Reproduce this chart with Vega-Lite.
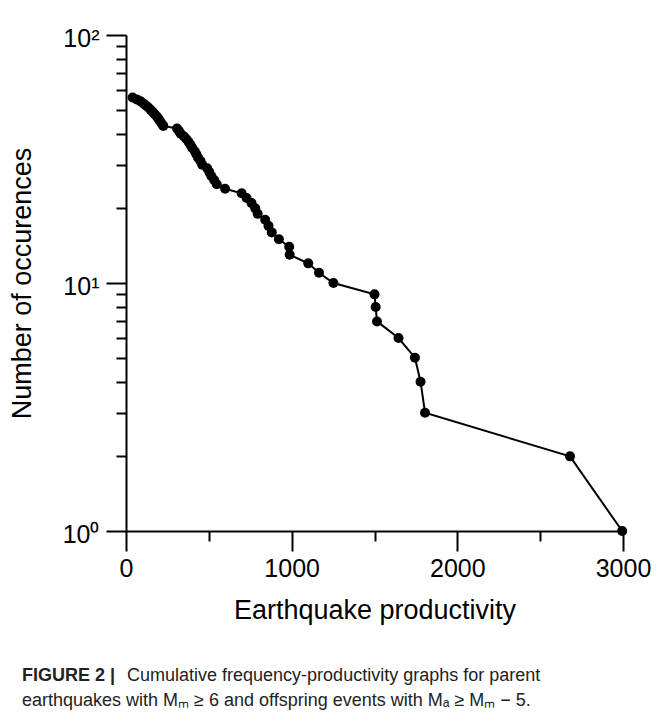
{
  "$schema": "https://vega.github.io/schema/vega-lite/v6.json",
  "width": 497,
  "height": 496,
  "autosize": {"type": "none"},
  "padding": {"left": 126, "top": 35, "right": 33, "bottom": 193},
  "background": "white",
  "config": {"view": {"stroke": null}, "font": "Liberation Sans"},
  "title": {
    "text": "FIGURE 2 |",
    "subtitle": ["\u200b\u00a0\u00a0\u00a0\u00a0\u00a0\u00a0\u00a0\u00a0\u00a0\u00a0\u00a0\u00a0\u00a0\u00a0\u00a0\u00a0\u00a0\u00a0\u00a0\u00a0\u00a0Cumulative frequency-productivity graphs for parent", "earthquakes with Mₘ ≥ 6 and offspring events with Mₐ ≥ Mₘ − 5."],
    "orient": "bottom",
    "anchor": "start",
    "frame": "group",
    "dx": -104,
    "offset": 44,
    "fontSize": 18,
    "fontWeight": "bold",
    "color": "#222222",
    "lineHeight": 25,
    "subtitleFontSize": 18,
    "subtitleLineHeight": 25,
    "subtitleColor": "#222222",
    "subtitlePadding": -18
  },
  "data": {
    "values": [
      {"productivity": 2995, "occurrences": 1},
      {"productivity": 2680, "occurrences": 2},
      {"productivity": 1805, "occurrences": 3},
      {"productivity": 1778, "occurrences": 4},
      {"productivity": 1744, "occurrences": 5},
      {"productivity": 1645, "occurrences": 6},
      {"productivity": 1515, "occurrences": 7},
      {"productivity": 1507, "occurrences": 8},
      {"productivity": 1500, "occurrences": 9},
      {"productivity": 1252, "occurrences": 10},
      {"productivity": 1165, "occurrences": 11},
      {"productivity": 1100, "occurrences": 12},
      {"productivity": 988, "occurrences": 13},
      {"productivity": 985, "occurrences": 14},
      {"productivity": 923, "occurrences": 15},
      {"productivity": 880, "occurrences": 16},
      {"productivity": 860, "occurrences": 17},
      {"productivity": 840, "occurrences": 18},
      {"productivity": 795, "occurrences": 19},
      {"productivity": 780, "occurrences": 20},
      {"productivity": 758, "occurrences": 21},
      {"productivity": 728, "occurrences": 22},
      {"productivity": 698, "occurrences": 23},
      {"productivity": 598, "occurrences": 24},
      {"productivity": 548, "occurrences": 25},
      {"productivity": 532, "occurrences": 26},
      {"productivity": 515, "occurrences": 27},
      {"productivity": 503, "occurrences": 28},
      {"productivity": 490, "occurrences": 29},
      {"productivity": 460, "occurrences": 30},
      {"productivity": 450, "occurrences": 31},
      {"productivity": 435, "occurrences": 32},
      {"productivity": 425, "occurrences": 33},
      {"productivity": 415, "occurrences": 34},
      {"productivity": 400, "occurrences": 35},
      {"productivity": 390, "occurrences": 36},
      {"productivity": 378, "occurrences": 37},
      {"productivity": 365, "occurrences": 38},
      {"productivity": 350, "occurrences": 39},
      {"productivity": 330, "occurrences": 40},
      {"productivity": 320, "occurrences": 41},
      {"productivity": 308, "occurrences": 42},
      {"productivity": 225, "occurrences": 43},
      {"productivity": 215, "occurrences": 44},
      {"productivity": 205, "occurrences": 45},
      {"productivity": 195, "occurrences": 46},
      {"productivity": 185, "occurrences": 47},
      {"productivity": 172, "occurrences": 48},
      {"productivity": 160, "occurrences": 49},
      {"productivity": 148, "occurrences": 50},
      {"productivity": 135, "occurrences": 51},
      {"productivity": 120, "occurrences": 52},
      {"productivity": 105, "occurrences": 53},
      {"productivity": 88, "occurrences": 54},
      {"productivity": 65, "occurrences": 55},
      {"productivity": 40, "occurrences": 56}
    ]
  },
  "encoding": {
    "x": {
      "field": "productivity",
      "type": "quantitative",
      "scale": {"domain": [0, 3000], "nice": false, "zero": false},
      "axis": {
        "values": [0, 500, 1000, 1500, 2000, 2500, 3000],
        "format": "d",
        "labelExpr": "datum.value % 1000 == 0 ? datum.label : ''",
        "grid": false,
        "domainColor": "black",
        "domainWidth": 2,
        "tickColor": "black",
        "tickWidth": 2,
        "tickSize": {"condition": {"test": "datum.value % 1000 == 0", "value": 20}, "value": 10},
        "labelFontSize": 25,
        "labelColor": "black",
        "labelPadding": 5,
        "labelFlush": false,
        "labelOverlap": false,
        "title": "Earthquake productivity",
        "titleFontSize": 27,
        "titleFontWeight": "normal",
        "titleColor": "black",
        "titlePadding": 16
      }
    },
    "y": {
      "field": "occurrences",
      "type": "quantitative",
      "scale": {"type": "log", "domain": [1, 100], "nice": false},
      "axis": {
        "values": [1, 2, 3, 4, 5, 6, 7, 8, 9, 10, 20, 30, 40, 50, 60, 70, 80, 90, 100],
        "labelExpr": "datum.value == 100 ? '10²' : datum.value == 10 ? '10¹' : datum.value == 1 ? '10⁰' : ''",
        "grid": false,
        "domainColor": "black",
        "domainWidth": 2,
        "tickColor": "black",
        "tickWidth": 2,
        "tickSize": {"condition": {"test": "datum.value == 1 || datum.value == 10 || datum.value == 100", "value": 20}, "value": 10},
        "labelFontSize": 25,
        "labelColor": "black",
        "labelPadding": 7,
        "labelOffset": 3,
        "labelFlush": false,
        "labelOverlap": false,
        "title": "Number of occurences",
        "titleFontSize": 27,
        "titleFontWeight": "normal",
        "titleColor": "black",
        "titlePadding": 26
      }
    }
  },
  "layer": [
    {"mark": {"type": "line", "color": "black", "strokeWidth": 2}},
    {"mark": {"type": "point", "filled": true, "color": "black", "size": 100, "opacity": 1}}
  ]
}
